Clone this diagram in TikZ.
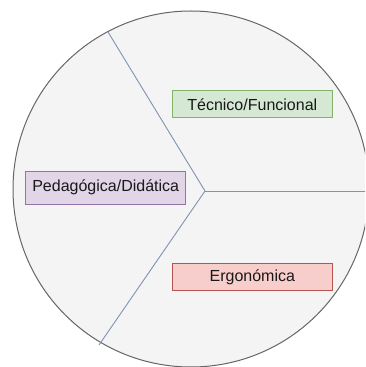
\documentclass[tikz,border=0pt]{standalone}
\usepackage{fontspec}
\setmainfont{Liberation Sans}
\usetikzlibrary{positioning}

\definecolor{discfill}{HTML}{F4F4F4}
\definecolor{discline}{HTML}{666666}
\definecolor{spoke}{HTML}{7F93B5}
\definecolor{greenfill}{HTML}{D5E8D4}
\definecolor{greenline}{HTML}{82B366}
\definecolor{purplefill}{HTML}{E1D5E7}
\definecolor{purpleline}{HTML}{9673A6}
\definecolor{redfill}{HTML}{F8CECC}
\definecolor{redline}{HTML}{B85450}

\begin{document}
\begin{tikzpicture}[x=1pt, y=1pt,
        label box/.style = {draw, line width=0.9pt, minimum width=160pt, inner sep=0pt,
                            text=black!90, font=\fontsize{16}{19}\selectfont},
        spoke line/.style = {draw=spoke, line width=0.9pt}]
                \useasboundingbox (0,0) rectangle (365,367);
                \clip (0,0) rectangle (365,367);

                % the disc and its three sectors
                \coordinate (o) at (191,178);
                \coordinate (hub) at (205,176);
                \coordinate (s_r) at (370,176);
                \coordinate (s_u) at (108,335);
                \coordinate (s_d) at (99,22);
                \draw[fill=discfill, draw=discline, line width=1pt] (o) circle (178);
                \draw[spoke line] (hub) -- (s_r);
                \draw[spoke line] (hub) -- (s_u);
                \draw[spoke line] (hub) -- (s_d);

                \node[label box, fill=greenfill,  draw=greenline,  minimum height=27pt] (tec) at (252.3,262.6) {Técnico/Funcional};
                \node[label box, fill=purplefill, draw=purpleline, minimum height=33pt] (ped) at (105.7,179.3) {Pedagógica/Didática};
                \node[label box, fill=redfill,    draw=redline,    minimum height=27pt] (erg) at (252.3,89.7)  {Ergonómica};
            \end{tikzpicture}
\end{document}
